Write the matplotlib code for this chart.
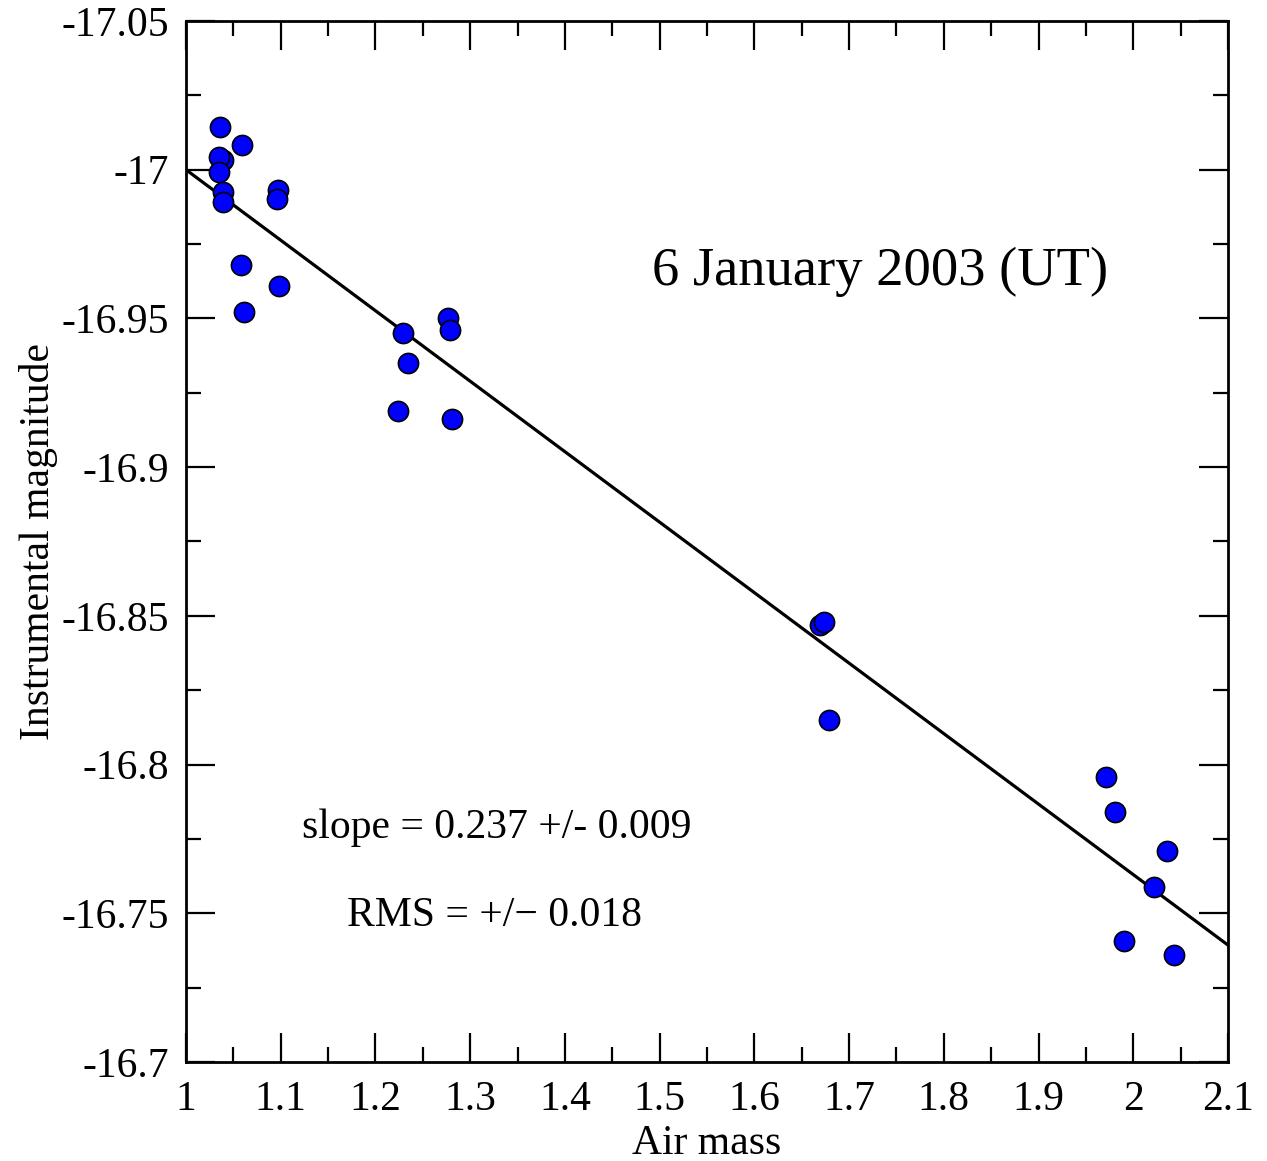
import matplotlib
matplotlib.use("Agg")
import matplotlib.pyplot as plt
from matplotlib.ticker import MultipleLocator, FuncFormatter

plt.rcParams['font.family'] = ['Liberation Serif', 'DejaVu Serif']
plt.rcParams['axes.unicode_minus'] = False

air_mass = [1.0359, 1.0588, 1.0387, 1.0352, 1.0348, 1.0387, 1.0394, 1.0968, 1.0961,
            1.0581, 1.0985, 1.0609, 1.2287, 1.2340, 1.2234, 1.2762, 1.2783, 1.2808,
            1.6693, 1.6738, 1.6791, 1.9712, 1.9807, 2.0352, 2.0218, 1.9898, 2.0433]
magnitude = [-17.0143, -17.0082, -17.0033, -17.0042, -16.9993, -16.9926, -16.9892, -16.9932, -16.9900,
             -16.9681, -16.9610, -16.9522, -16.9452, -16.9350, -16.9190, -16.9500, -16.9461, -16.9161,
             -16.8469, -16.8480, -16.8149, -16.7959, -16.7839, -16.7708, -16.7589, -16.7408, -16.7360]

fit_x = [1.0, 2.1]
fit_y = [-17.0, -16.7393]

title_text = "6 January 2003 (UT)"
slope_text = "slope = 0.237 +/- 0.009"
rms_text = "RMS = +/\u2212 0.018"

fig = plt.figure(figsize=(12.67, 11.61), dpi=100)
ax = fig.add_axes([0.1468, 0.0853, 0.9692 - 0.1468, 0.9819 - 0.0853])

ax.plot(fit_x, fit_y, color='black', lw=2.3, zorder=2)
ax.plot(air_mass, magnitude, 'o', ms=14.5, mfc='#0000ff', mec='black', mew=1.2, zorder=3, clip_on=False)

ax.set_xlim(1.0, 2.1)
ax.set_ylim(-16.7, -17.05)

ax.xaxis.set_major_locator(MultipleLocator(0.1))
ax.xaxis.set_minor_locator(MultipleLocator(0.05))
ax.yaxis.set_major_locator(MultipleLocator(0.05))
ax.yaxis.set_minor_locator(MultipleLocator(0.025))
fmt = FuncFormatter(lambda v, p: '%g' % round(v, 3))
ax.xaxis.set_major_formatter(fmt)
ax.yaxis.set_major_formatter(fmt)

ax.tick_params(which='both', direction='in', top=True, right=True, width=1.6, labelsize=30)
ax.tick_params(which='major', length=21)
ax.tick_params(axis='x', which='major', pad=13)
ax.tick_params(axis='y', which='major', pad=12)
ax.tick_params(which='minor', length=10.5)
for s in ax.spines.values():
    s.set_linewidth(2.0)

ax.set_xlabel("Air mass", fontsize=30, labelpad=4)
ax.set_ylabel("Instrumental magnitude", fontsize=30, labelpad=3)

ax.text(1.7326, -16.9656, title_text, fontsize=39.3, ha='center', va='center')
ax.text(1.1225, -16.7786, slope_text, fontsize=30, ha='left', va='center')
ax.text(1.170, -16.7490, rms_text, fontsize=30, ha='left', va='center')

fig.savefig("out.png", dpi=100)
